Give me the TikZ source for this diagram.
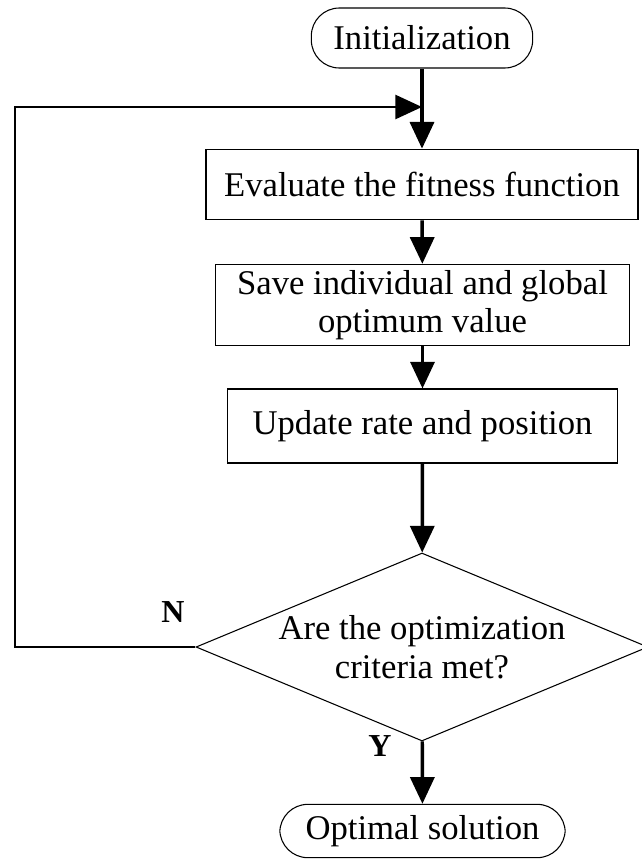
\documentclass[tikz,border=0pt]{standalone}
\usepackage{fontspec}
\setmainfont{Liberation Serif}
\usetikzlibrary{shapes.geometric,arrows.meta}
\tikzset{
  term/.style={draw, line width=0.8pt, rectangle, rounded corners=21pt, inner sep=0pt},
  proc/.style={draw, line width=0.8pt, rectangle, inner sep=0pt, align=center},
  decide/.style={draw, line width=0.8pt, diamond, aspect=2.4, inner sep=0pt, align=center},
  flow/.style={line width=2.6pt, -{Triangle[length=20pt, width=18pt]}},
}
\begin{document}
\begin{tikzpicture}[x=0.75pt, y=-0.75pt, font=\fontsize{26}{29}\selectfont]
     \useasboundingbox (0,0) rectangle (642,861);
     \node[term, minimum width=166pt, minimum height=45pt] (init) at (422,38) {Initialization};
     \node[proc, minimum width=324pt, minimum height=53pt] (eval) at (422,184.5) {Evaluate the fitness function};
     \node[proc, minimum width=311pt, minimum height=61pt] (save) at (422.5,305) {Save individual and global\\optimum value};
     \node[proc, minimum width=292pt, minimum height=55.5pt] (upd) at (422.5,426) {Update rate and position};
     \node[decide, minimum width=339pt, minimum height=141pt] (crit) at (422,647) {Are the optimization\\criteria met?};
     \node[term, minimum width=214pt, minimum height=40pt] (opt) at (422.5,831) {Optimal solution};
     \coordinate (join) at (422,107);
     \coordinate (back) at (15,647);
     \draw[flow] (init) -- (eval);
     \draw[flow] (eval) -- (save);
     \draw[flow] (save) -- (upd);
     \draw[flow] (upd) -- (crit);
     \draw[flow] (crit) -- (opt);
     \draw[line width=2pt] (crit.west) -- (back) |- (join);
     \draw[flow, line width=2pt] (back |- join) -- (join);
     \node[font=\fontsize{24}{26}\selectfont\bfseries] (no) at (173,612) {N};
     \node[font=\fontsize{24}{26}\selectfont\bfseries] (yes) at (380,746) {Y};
 \end{tikzpicture}
\end{document}
